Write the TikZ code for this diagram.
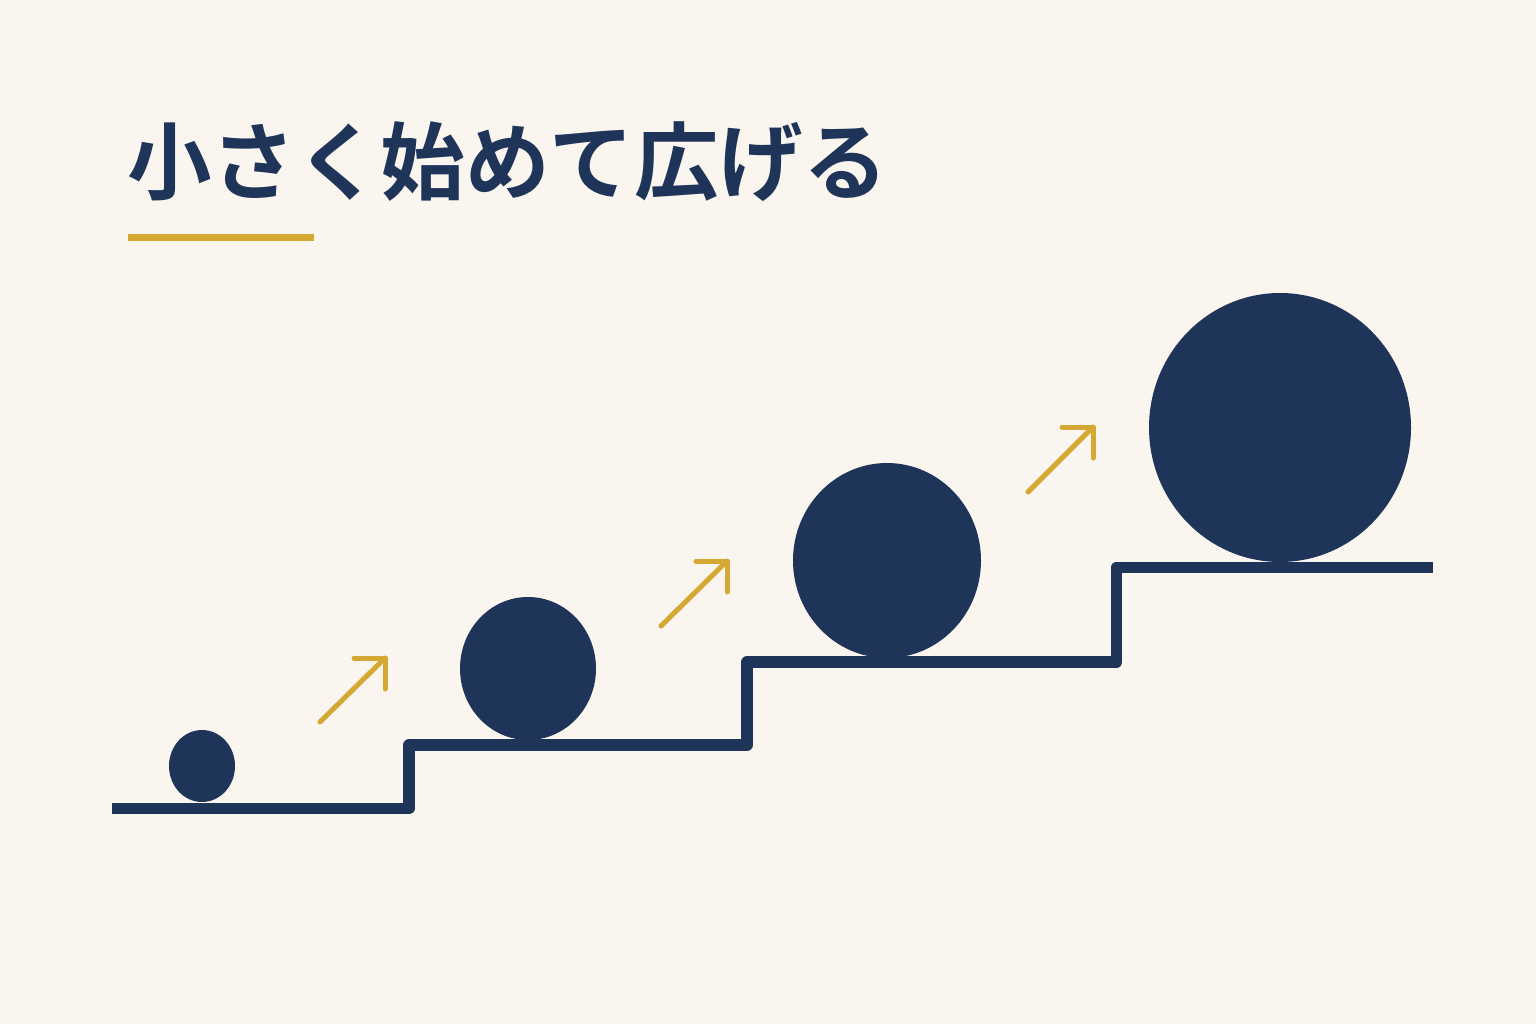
\documentclass[tikz,border=0pt]{standalone}
\usepackage{fontspec}
\newfontfamily\jpfont{Noto Sans CJK JP}[BoldFont={* Bold}]
\usetikzlibrary{shapes.geometric}
\definecolor{bgc}{HTML}{FAF6EF}
\definecolor{navy}{HTML}{1F3459}
\definecolor{gold}{HTML}{D4A832}
\begin{document}
\begin{tikzpicture}[x=1pt,y=-1pt,
  stair/.style={draw=navy,line width=11.5pt,line join=round,line cap=butt},
  ball/.style={ellipse,fill=navy,inner sep=0pt,draw=none},
  uparrow/.style={draw=gold,line width=5pt,line cap=round,line join=round}]
\fill[bgc] (0,0) rectangle (1536,1024);
\useasboundingbox (0,0) rectangle (1536,1024);
% title
\node[anchor=base west,inner sep=0pt,text=navy,font=\jpfont\bfseries\fontsize{84.5}{84.5}\selectfont] (title) at (127,194) {小さく始めて広げる};
\coordinate (ulA) at (128,237.5);
\coordinate (ulB) at (314,237.5);
\draw[gold,line width=7pt] (ulA) -- (ulB);
% staircase
\coordinate (s0) at (112,808.5);
\coordinate (s1) at (409,808.5);
\coordinate (s2) at (409,745);
\coordinate (s3) at (747,745);
\coordinate (s4) at (747,662);
\coordinate (s5) at (1116.5,662);
\coordinate (s6) at (1116.5,567.5);
\coordinate (s7) at (1433,567.5);
\draw[stair] (s0) -- (s1) -- (s2) -- (s3) -- (s4) -- (s5) -- (s6) -- (s7);
% balls
\node[ball,minimum width=66pt,minimum height=72pt] (b1) at (202,766) {};
\node[ball,minimum width=136pt,minimum height=143pt] (b2) at (528,668.5) {};
\node[ball,minimum width=188pt,minimum height=195pt] (b3) at (887,560.5) {};
\node[ball,minimum width=262pt,minimum height=269pt] (b4) at (1280,427.5) {};
% arrows
\foreach \n/\tx/\ty/\hx/\hy in {1/320/722/385/658, 2/661/626/727/561, 3/1028/492/1093/427}{
  \coordinate (t\n) at (\tx,\ty);
  \coordinate (h\n) at (\hx,\hy);
  \coordinate (ha\n) at (\hx-31,\hy);
  \coordinate (hb\n) at (\hx,\hy+31);
  \draw[uparrow] (t\n) -- (h\n);
  \draw[uparrow] (ha\n) -- (h\n) -- (hb\n);
}
\end{tikzpicture}
\end{document}
